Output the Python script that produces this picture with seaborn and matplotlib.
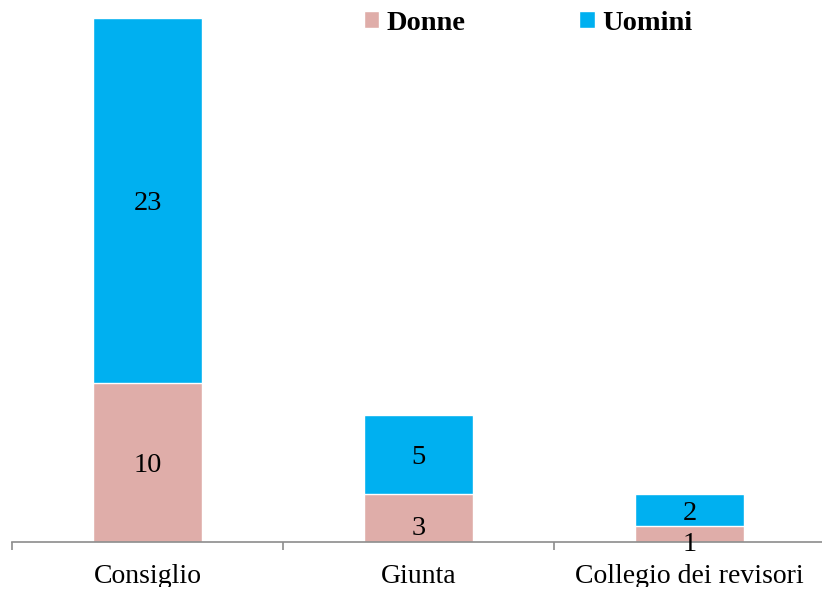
import matplotlib
matplotlib.use("Agg")
import matplotlib.pyplot as plt
from matplotlib.patches import Patch, Rectangle
import seaborn as sns
import pandas as pd

categories = ["Consiglio", "Giunta", "Collegio dei revisori"]
donne = [10, 3, 1]
uomini = [23, 5, 2]

pink = "#DFADA9"
blue = "#00B0F0"

sns.set_style("white")
plt.rcParams['font.family'] = ['Liberation Serif', 'DejaVu Serif']
plt.rcParams['text.color'] = 'black'
plt.rcParams['xtick.color'] = 'black'

df = pd.DataFrame({"cat": categories, "Donne": donne, "Uomini": uomini})
df["tot"] = df["Donne"] + df["Uomini"]

fig = plt.figure(figsize=(8.22, 5.97), dpi=100)
ax = fig.add_axes([12/822, 55/597, 813/822, 542/597])

sns.barplot(data=df, x="cat", y="tot", color=blue, width=0.4, saturation=1, ax=ax)
sns.barplot(data=df, x="cat", y="Donne", color=pink, width=0.4, saturation=1, ax=ax)

# value labels
for i, (d, u) in enumerate(zip(donne, uomini)):
    ax.text(i, d + u / 2, str(u), ha="center", va="center_baseline", fontsize=20.5)
    off = -5 if d < 5 else 0
    ax.annotate(str(d), (i, d / 2), xytext=(0, off), textcoords="offset points",
                ha="center", va="center_baseline", fontsize=20.5)

ax.set_xlim(-0.5, 2.5)
ax.set_ylim(0, 34.13)
ax.set_xlabel("")
ax.set_ylabel("")
ax.set_yticks([])

# ticks at category boundaries, labels in the middle
ax.set_xticks([-0.5, 0.5, 1.5, 2.5])
ax.set_xticklabels([])
ax.set_xticks([0, 1, 2], minor=True)
ax.set_xticklabels(categories, minor=True, fontsize=20)
ax.tick_params(axis="x", which="major", bottom=True, direction="out", length=6,
               width=1.2, color="#8C8C8C")
ax.tick_params(axis="x", which="minor", bottom=True, length=0, pad=16, labelcolor="black")

for s in ["top", "left", "right"]:
    ax.spines[s].set_visible(False)
ax.spines["bottom"].set_color("#8C8C8C")
ax.spines["bottom"].set_linewidth(1.2)

handles = [Patch(facecolor=pink, label="Donne"), Patch(facecolor=blue, label="Uomini")]
fig.legend(handles=handles, loc="center", bbox_to_anchor=(528/822, 1 - 23/597), ncol=2,
           frameon=False, prop={"weight": "bold", "size": 20.5},
           handlelength=0.55, handleheight=0.55, handletextpad=0.25, columnspacing=4.0,
           borderaxespad=0, borderpad=0)

# bottom edge of the picture is blank
fig.patches.append(Rectangle((0, 0), 1, 10/597, transform=fig.transFigure,
                             facecolor="white", edgecolor="none", zorder=10))

fig.savefig("out.png", dpi=100)
